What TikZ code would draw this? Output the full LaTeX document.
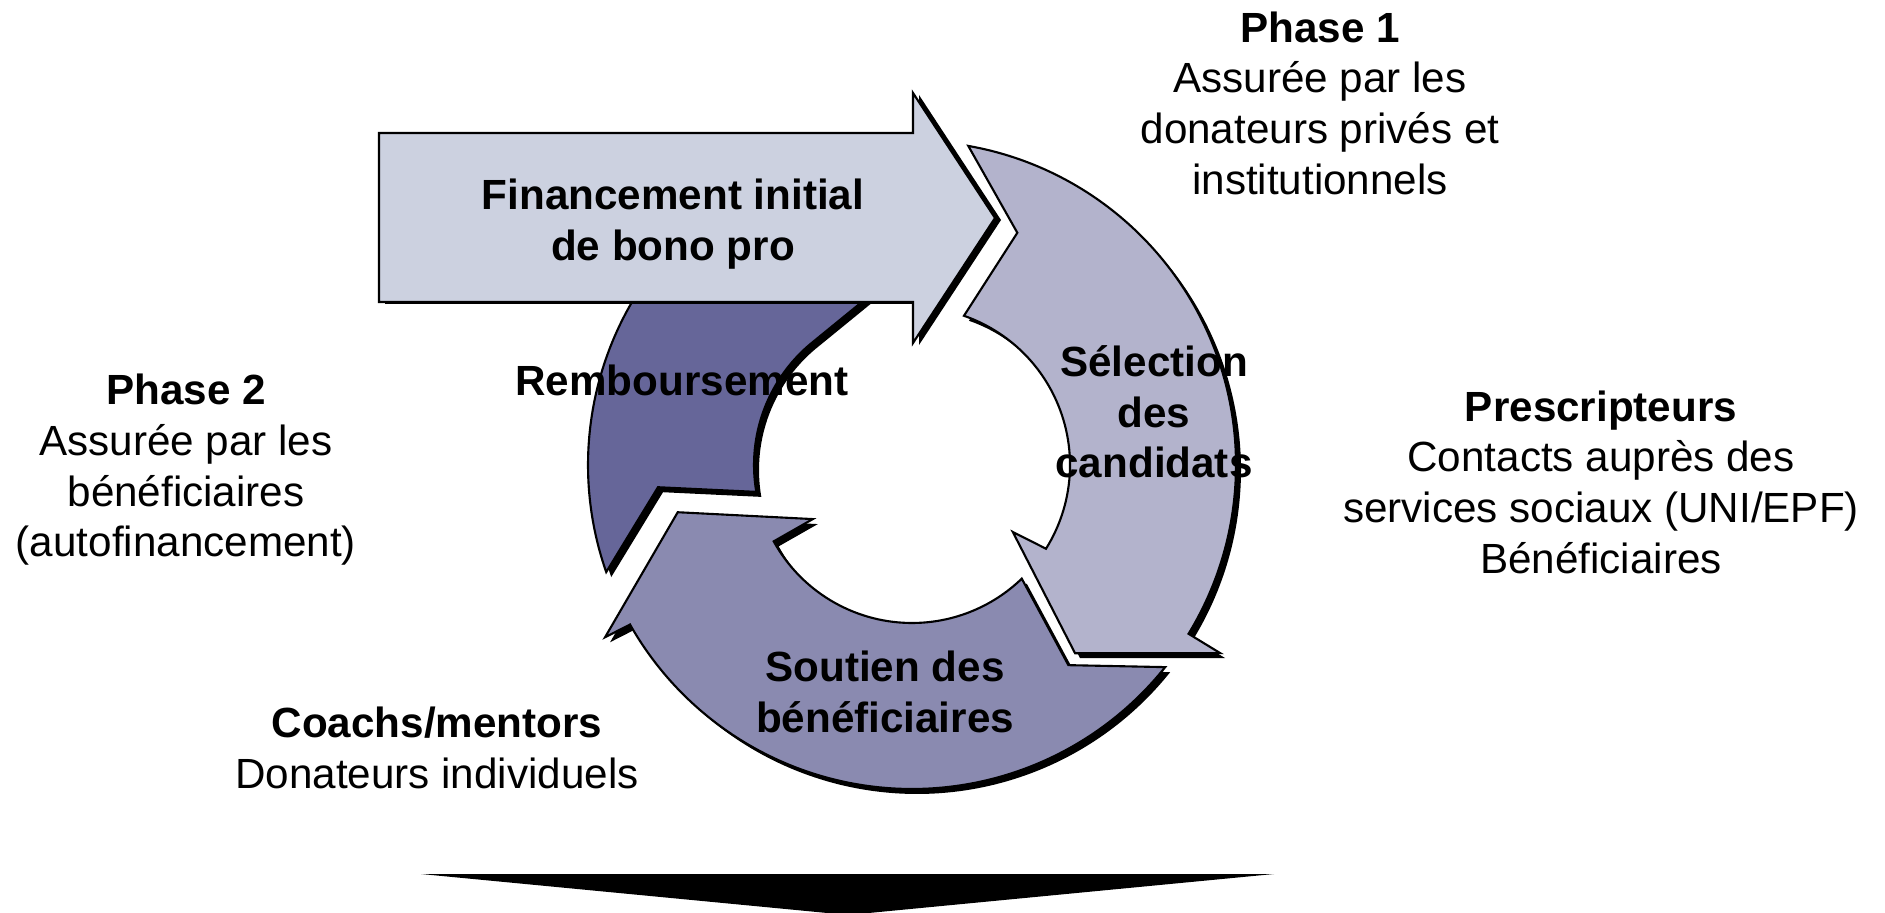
\documentclass[tikz,border=0pt]{standalone}
\usepackage{fontspec}
\setmainfont{Liberation Sans}
\usetikzlibrary{calc,shadows}
\definecolor{arrowfill}{RGB}{204,209,224}
\definecolor{selfill}{RGB}{179,179,204}
\definecolor{soufill}{RGB}{138,138,176}
\definecolor{remfill}{RGB}{102,102,153}
\tikzset{
  seg/.style={draw=black, line width=0.6pt},
  ringshadow/.style={drop shadow={opacity=1, fill=black, shadow xshift=0.05cm, shadow yshift=-0.05cm}},
  arrowshadow/.style={drop shadow={opacity=1, fill=black, shadow xshift=0.06cm, shadow yshift=-0.02cm}},
  txt/.style={align=center, inner sep=0pt, font=\fontsize{12}{14.4}\selectfont},
  btxt/.style={txt, font=\fontsize{12}{14.4}\selectfont\bfseries}
}
\begin{document}
\begin{tikzpicture}[x=0.01cm, y=0.01cm]
  \useasboundingbox (0,0) rectangle (1885,912);
  \coordinate (c) at (912,447);
  % soutien des beneficiaires
  \path[seg, ringshadow, fill=soufill]
    ($(c)+(-38.6:324)$) arc[start angle=-38.6, end angle=-150.5, radius=324]
    -- ($(c)+(-150.7:352)$) -- ($(c)+(-168.6:239)$) -- ($(c)+(-151.4:113)$)
    -- ($(c)+(-151.1:158)$) arc[start angle=-151.1, end angle=-46, radius=158]
    -- ($(c)+(-52:254)$) -- cycle;
  % remboursement
  \path[seg, ringshadow, fill=remfill]
    ($(c)+(199.3:324)$) arc[start angle=199.3, end angle=100, radius=324]
    -- (868,615) -- ($(c)+(128:158)$) arc[start angle=128, end angle=189.8, radius=158]
    -- ($(c)+(185:255)$) -- cycle;
  % selection des candidats
  \path[seg, ringshadow, fill=selfill]
    ($(c)+(80:324)$) arc[start angle=80, end angle=-31.4, radius=324]
    -- ($(c)+(-31.4:361)$) -- ($(c)+(-49.1:249)$) -- ($(c)+(-33.6:121)$)
    -- ($(c)+(-32:158)$) arc[start angle=-32, end angle=70.8, radius=158]
    -- ($(c)+(65.6:255)$) -- cycle;
  % financement initial
  \path[seg, arrowshadow, fill=arrowfill]
    (379,610) -- (913,610) -- (913,569) -- (995,694) -- (913,819)
    -- (913,779) -- (379,779) -- cycle;
  % fleche du bas
  \fill (421,38) -- (1274,38) -- (848,-3) -- cycle;

  \node[btxt] (fin) at (673,688) {Financement initial\\de bono pro};
  \node[btxt] (remb) at (682,532) {Remboursement};
  \node[btxt] (sel) at (1154,500) {Sélection\\des\\candidats};
  \node[btxt] (sout) at (885,220) {Soutien des\\bénéficiaires};

  \node[txt] (ph1) at (1320,809) {\textbf{Phase 1}\\Assurée par les\\donateurs privés et\\institutionnels};
  \node[txt] (ph2) at (186,442) {\textbf{Phase 2}\\Assurée par les\\bénéficiaires\\(autofinancement)};
  \node[txt] (presc) at (1601,430) {\textbf{Prescripteurs}\\Contacts auprès des\\services sociaux (UNI/EPF)\\Bénéficiaires};
  \node[txt] (coach) at (437,164) {\textbf{Coachs/mentors}\\Donateurs individuels};
\end{tikzpicture}
\end{document}
